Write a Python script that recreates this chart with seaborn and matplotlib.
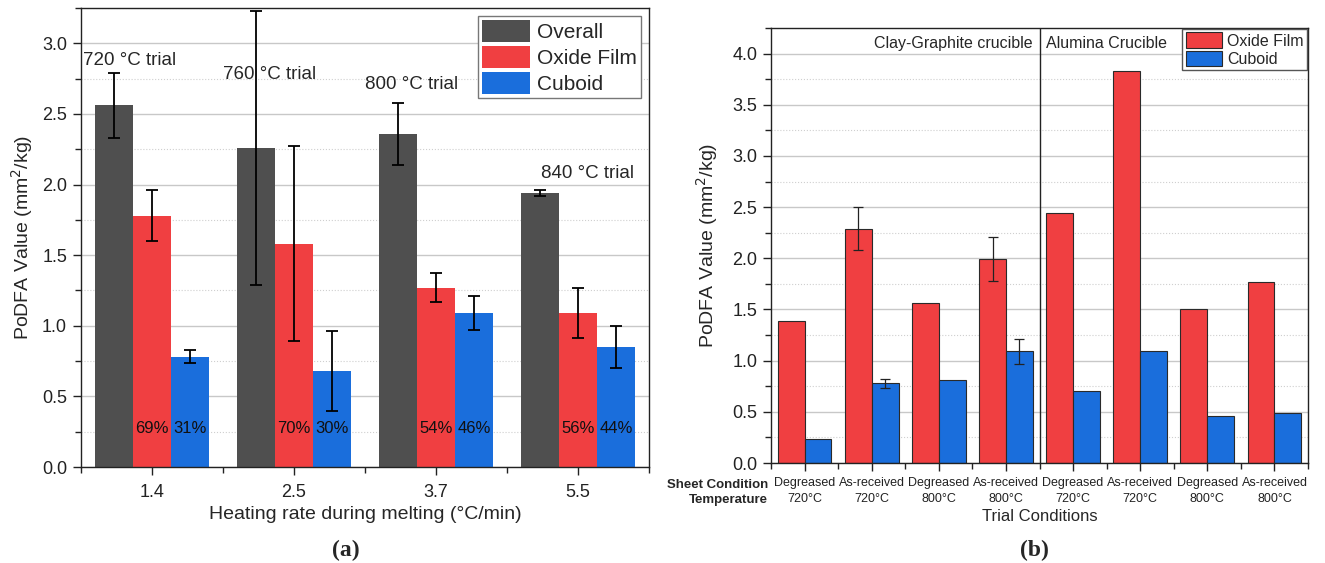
import numpy as np
import pandas as pd
import matplotlib
matplotlib.use("Agg")
import matplotlib.pyplot as plt
from matplotlib.ticker import MultipleLocator, FixedLocator
import seaborn as sns

# ---------------- data: panel (a) ----------------
rates = ["1.4", "2.5", "3.7", "5.5"]
series_a = ["Overall", "Oxide Film", "Cuboid"]
overall = [2.56, 2.26, 2.36, 1.94]
oxide_a = [1.78, 1.58, 1.27, 1.09]
cuboid_a = [0.78, 0.68, 1.09, 0.85]
overall_err = [0.23, 0.97, 0.22, 0.02]
oxide_a_err = [0.18, 0.69, 0.105, 0.18]
cuboid_a_err = [0.045, 0.28, 0.12, 0.15]
oxide_pct = ["69%", "70%", "54%", "56%"]
cuboid_pct = ["31%", "30%", "46%", "44%"]
trial_labels = ["720 °C trial", "760 °C trial", "800 °C trial", "840 °C trial"]

# ---------------- data: panel (b) ----------------
crucible = ["Clay-Graphite"] * 4 + ["Alumina"] * 4
sheet = ["Degreased", "As-received", "Degreased", "As-received"] * 2
temps = ["720°C", "720°C", "800°C", "800°C"] * 2
series_b = ["Oxide Film", "Cuboid"]
oxide_b = [1.39, 2.29, 1.56, 1.99, 2.44, 3.83, 1.50, 1.77]
cuboid_b = [0.23, 0.78, 0.81, 1.09, 0.70, 1.09, 0.46, 0.49]
oxide_b_err = [0, 0.21, 0, 0.215, 0, 0, 0, 0]
cuboid_b_err = [0, 0.045, 0, 0.12, 0, 0, 0, 0]
group_titles = ["Clay-Graphite crucible", "Alumina Crucible"]

# ---------------- style ----------------
sns.set_style("ticks")
plt.rcParams["font.family"] = ["Liberation Sans", "DejaVu Sans"]
plt.rcParams["axes.edgecolor"] = "#222222"
plt.rcParams["axes.linewidth"] = 1.0
plt.rcParams["xtick.color"] = "#222222"
plt.rcParams["ytick.color"] = "#222222"

GRAY = "#4f4f4f"
RED = "#f03f41"
BLUE = "#1a6edc"

fig = plt.figure(figsize=(13.25, 5.63), dpi=100)
ax1 = fig.add_axes([0.0611, 0.1705, 0.4287, 0.8153])
ax2 = fig.add_axes([0.5819, 0.1776, 0.4053, 0.7727])

# ---------------- panel (a) ----------------
df_a = pd.DataFrame({
    "rate": rates * 3,
    "value": overall + oxide_a + cuboid_a,
    "series": sum([[s] * len(rates) for s in series_a], []),
})
sns.barplot(data=df_a, x="rate", y="value", hue="series", order=rates,
            hue_order=series_a, palette=[GRAY, RED, BLUE], saturation=1,
            errorbar=None, width=0.8, edgecolor="none", linewidth=0,
            ax=ax1, zorder=2)

errs_a = [overall_err, oxide_a_err, cuboid_a_err]
centers_a = []
for cont, err in zip(ax1.containers, errs_a):
    xs = [b.get_x() + b.get_width() / 2 for b in cont]
    hs = [b.get_height() for b in cont]
    centers_a.append(xs)
    ax1.errorbar(xs, hs, yerr=err, fmt="none", ecolor="black",
                 elinewidth=1.3, capsize=4, capthick=1.3, zorder=3)

for xs, labels in zip(centers_a[1:], [oxide_pct, cuboid_pct]):
    for x, t in zip(xs, labels):
        ax1.text(x, 0.27, t, ha="center", va="center", fontsize=12,
                 color="#111111", zorder=4)

trial_pos = [(-0.485, 2.88, "left"), (0.83, 2.78, "center"),
             (1.83, 2.71, "center"), (3.07, 2.075, "center")]
for (x, y, ha), t in zip(trial_pos, trial_labels):
    ax1.text(x, y, t, ha=ha, va="center", fontsize=13.5, zorder=4)

ax1.set_ylim(0, 3.25)
ax1.set_xlim(-0.5, len(rates) - 0.5)
ax1.yaxis.set_major_locator(MultipleLocator(0.5))
ax1.yaxis.set_minor_locator(MultipleLocator(0.25))
ax1.xaxis.set_minor_locator(FixedLocator(np.arange(-0.5, len(rates), 1.0)))
ax1.yaxis.set_major_formatter(matplotlib.ticker.FormatStrFormatter("%.1f"))
ax1.grid(which="major", axis="y", color="#c8c8c8", lw=1.0, zorder=0)
ax1.grid(which="minor", axis="y", color="#cfcfcf", lw=0.8, ls=":", zorder=0)
ax1.grid(which="major", axis="x", visible=False)
ax1.set_axisbelow(True)
ax1.tick_params(which="major", length=6, width=1.0, labelsize=13, pad=4)
ax1.tick_params(which="minor", length=4, width=1.0)
ax1.tick_params(axis="x", which="major", pad=6)
ax1.set_xlabel("Heating rate during melting (°C/min)", fontsize=14, labelpad=4)
ax1.set_ylabel("PoDFA Value (mm$^2$/kg)", fontsize=14, labelpad=5)
for s in ax1.spines.values():
    s.set_visible(True)
ax1.legend(loc="upper right", bbox_to_anchor=(1, 1), fontsize=15,
           frameon=True, fancybox=False, edgecolor="#777777", framealpha=1,
           borderaxespad=0.4, handlelength=2.3, handleheight=1.2,
           handletextpad=0.3, labelspacing=0.2, borderpad=0.2)

# ---------------- panel (b) ----------------
keys = [f"{c}|{s}|{t}" for c, s, t in zip(crucible, sheet, temps)]
df_b = pd.DataFrame({
    "trial": keys * 2,
    "value": oxide_b + cuboid_b,
    "series": sum([[s] * len(keys) for s in series_b], []),
})
sns.barplot(data=df_b, x="trial", y="value", hue="series", order=keys,
            hue_order=series_b, palette=[RED, BLUE], saturation=1,
            errorbar=None, width=0.8, edgecolor="#2a2a2a", linewidth=0.8,
            ax=ax2, zorder=2)

for cont, err in zip(ax2.containers, [oxide_b_err, cuboid_b_err]):
    for b, e in zip(cont, err):
        if e > 0:
            ax2.errorbar(b.get_x() + b.get_width() / 2, b.get_height(), yerr=e,
                         fmt="none", ecolor="#222222", elinewidth=0.9,
                         capsize=3.5, capthick=0.9, zorder=3)

n_cg = crucible.count("Clay-Graphite")
ax2.axvline(n_cg - 0.5, color="#222222", lw=1.0, zorder=3)
ax2.text(n_cg - 0.6, 4.1, group_titles[0], ha="right", va="center", fontsize=11.5)
ax2.text(n_cg - 0.4, 4.1, group_titles[1], ha="left", va="center", fontsize=11.5)

ax2.set_ylim(0, 4.25)
ax2.set_xlim(-0.5, len(keys) - 0.5)
ax2.set_xticks(range(len(keys)))
ax2.set_xticklabels([f"{s}\n{t}" for s, t in zip(sheet, temps)], fontsize=9,
                    linespacing=1.45)
ax2.yaxis.set_major_locator(MultipleLocator(0.5))
ax2.yaxis.set_minor_locator(MultipleLocator(0.25))
ax2.yaxis.set_major_formatter(matplotlib.ticker.FormatStrFormatter("%.1f"))
ax2.xaxis.set_minor_locator(FixedLocator(np.arange(-0.5, len(keys), 1.0)))
ax2.grid(which="major", axis="y", color="#c8c8c8", lw=1.0, zorder=0)
ax2.grid(which="minor", axis="y", color="#cfcfcf", lw=0.8, ls=":", zorder=0)
ax2.set_axisbelow(True)
ax2.tick_params(axis="y", which="major", length=6, width=1.0, labelsize=13, pad=4)
ax2.tick_params(axis="x", which="major", length=6, width=1.0, pad=4)
ax2.tick_params(which="minor", length=4, width=1.0)
ax2.set_xlabel("Trial Conditions", fontsize=12, labelpad=3)
ax2.set_ylabel("PoDFA Value (mm$^2$/kg)", fontsize=14, labelpad=9)
for s in ax2.spines.values():
    s.set_visible(True)
ax2.text(-0.006, -0.05, "Sheet Condition", transform=ax2.transAxes,
         ha="right", va="center", fontsize=9.5, fontweight="bold")
ax2.text(-0.006, -0.085, "Temperature", transform=ax2.transAxes,
         ha="right", va="center", fontsize=9.5, fontweight="bold")
ax2.legend(loc="upper right", bbox_to_anchor=(1, 1), fontsize=11.5,
           frameon=True, fancybox=False, edgecolor="#555555", framealpha=1,
           borderaxespad=0.08, handlelength=2.3, handleheight=1.1,
           handletextpad=0.3, labelspacing=0.15, borderpad=0.2)

# ---------------- panel letters ----------------
fig.text(346 / 1325, 1 - 550 / 563, "(a)", ha="center", va="center",
         fontsize=17, fontweight="bold", family=["Liberation Serif", "DejaVu Serif"])
fig.text(1034 / 1325, 1 - 550 / 563, "(b)", ha="center", va="center",
         fontsize=17, fontweight="bold", family=["Liberation Serif", "DejaVu Serif"])

fig.savefig("out.png", dpi=100)
